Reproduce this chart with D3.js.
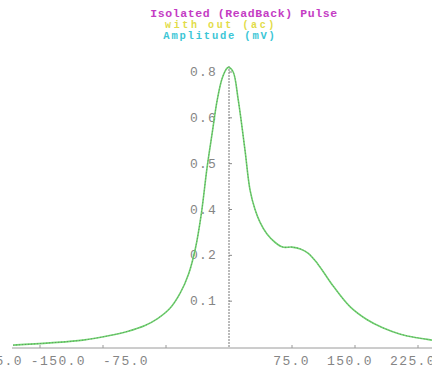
<!DOCTYPE html>
<html><head><meta charset="utf-8">
<script src="https://cdn.jsdelivr.net/npm/d3@7"></script>
<style>
html,body{margin:0;padding:0;background:#fff;}
svg{display:block;}
text{font-family:"Liberation Mono","DejaVu Sans Mono",monospace;}
</style></head>
<body>
<script>
// ---- data ----
const titleLines = ["Isolated (ReadBack) Pulse", "with out (ac)", "Amplitude (mV)"];
const xTickValues = [-225, -150, -75, 75, 150, 225];
const xTickLabels = ["-225.0", "-150.0", "-75.0", "75.0", "150.0", "225.0"];
const yTickValues = [0.1, 0.2, 0.3, 0.4, 0.5, 0.6];
const yTickLabels = ["0.1", "0.2", "0.4", "0.5", "0.6", "0.8"];
const pulseX = [-257,-213,-174,-142,-121,-100,-85,-70,-58,-48,-40,-33,-26,-20,-14,-8,-2,0,5,11,19,25,31,37,45,55,64,75,85,94,105,124,144,164,183,204,224,242];
const pulseY = [0.004,0.009,0.015,0.025,0.034,0.047,0.062,0.085,0.118,0.160,0.215,0.290,0.393,0.467,0.539,0.587,0.609,0.610,0.600,0.539,0.430,0.343,0.300,0.272,0.247,0.228,0.218,0.218,0.214,0.205,0.183,0.133,0.088,0.060,0.042,0.028,0.020,0.015];

// ---- layout ----
const W = 432, H = 368;
const svg = d3.select("body").append("svg").attr("width", W).attr("height", H);

const x = d3.scaleLinear().domain([-275, 275]).range([229 - 275*0.84, 229 + 275*0.84]);
const y = d3.scaleLinear().domain([0, 0.6]).range([347, 72]);

// title
const titleColors = ["#c43cc4", "#e2dc48", "#3cc6d6"];
const titleX = [244, 221, 220];
const titleY = [17, 28, 39];
const titleSize = [11.5, 10, 10.5];
const titleSpacing = [0.6, 2.6, 1.8];
titleLines.forEach((t, i) => {
  svg.append("text").attr("x", titleX[i]).attr("y", titleY[i])
    .attr("text-anchor", "middle")
    .attr("font-size", titleSize[i]).attr("font-weight", "bold")
    .attr("letter-spacing", titleSpacing[i])
    .attr("fill", titleColors[i]).text(t);
});

// x axis line
svg.append("line").attr("x1", 12).attr("x2", W).attr("y1", y(0) + 1).attr("y2", y(0) + 1)
  .attr("stroke", "#9a9a9a").attr("stroke-width", 1);
svg.selectAll(".xt").data(xTickValues).enter().append("line")
  .attr("x1", d => x(d)).attr("x2", d => x(d))
  .attr("y1", y(0) - 2).attr("y2", y(0) + 1)
  .attr("stroke", "#9a9a9a");
svg.selectAll(".xl").data(xTickValues).enter().append("text")
  .attr("x", d => x(d) + (d < 0 ? -17 : 18))
  .attr("y", 365)
  .attr("text-anchor", "end")
  .attr("font-size", 13).attr("letter-spacing", 1.4)
  .attr("fill", "#858585")
  .text((d, i) => xTickLabels[i]);

// center dashed line (y axis)
svg.append("line").attr("x1", x(0)).attr("x2", x(0)).attr("y1", 66).attr("y2", y(0))
  .attr("stroke", "#777").attr("stroke-width", 1).attr("stroke-dasharray", "2,1");
svg.selectAll(".yt").data(yTickValues).enter().append("line")
  .attr("x1", x(0)).attr("x2", x(0) + 3)
  .attr("y1", d => y(d)).attr("y2", d => y(d))
  .attr("stroke", "#888");
svg.selectAll(".yl").data(yTickValues).enter().append("text")
  .attr("x", x(0) - 12).attr("y", d => y(d) + 4)
  .attr("text-anchor", "end")
  .attr("font-size", 13).attr("letter-spacing", 1.2)
  .attr("fill", "#858585")
  .text((d, i) => yTickLabels[i]);

// pulse curve
const pts = pulseX.map((v, i) => [v, pulseY[i]]);
const line = d3.line().x(d => x(d[0])).y(d => y(d[1])).curve(d3.curveCatmullRom.alpha(0.5));
svg.append("path").attr("d", line(pts)).attr("fill", "none")
  .attr("stroke", "#6fd46f").attr("stroke-width", 1.6);
svg.append("path").attr("d", line(pts)).attr("fill", "none")
  .attr("stroke", "#5a7a5a").attr("stroke-width", 0.7).attr("stroke-dasharray", "1,2");
</script>
</body></html>
